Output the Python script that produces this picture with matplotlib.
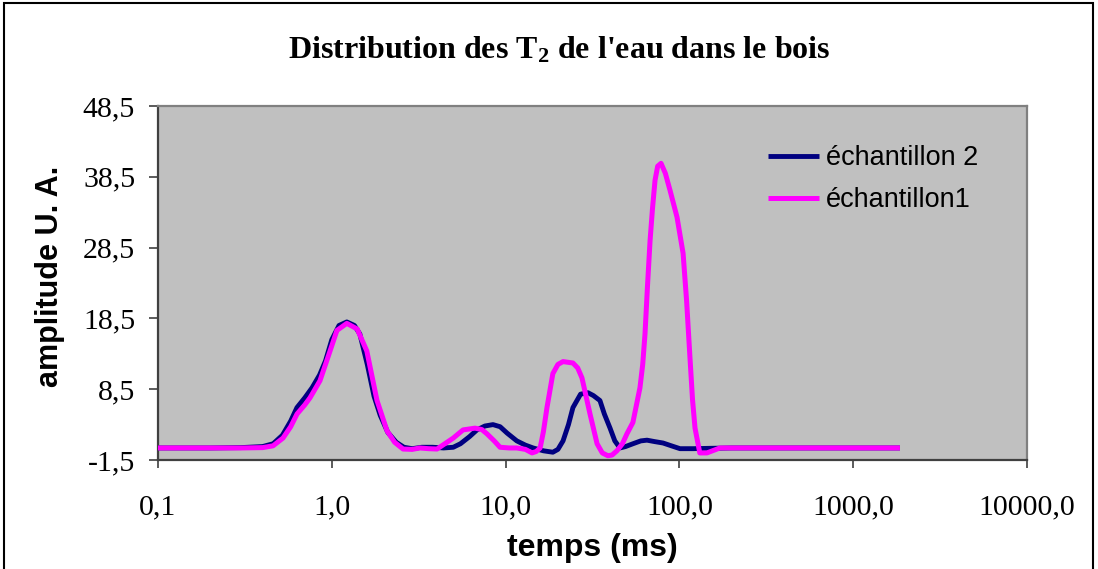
import matplotlib
matplotlib.use("Agg")
import matplotlib.pyplot as plt
from matplotlib.patches import Rectangle

# ---- data ----
t_ech2 = [0.1, 0.2, 0.3, 0.4, 0.46, 0.52, 0.58, 0.63, 0.70, 0.77, 0.85, 0.92, 1.0, 1.1,
          1.22, 1.35, 1.45, 1.6, 1.75, 1.9, 2.1, 2.35, 2.6, 2.9, 3.3, 3.8, 4.4, 5.0, 5.5,
          6.2, 6.84, 7.6, 8.46, 9.3, 10.2, 11.6, 13.0, 14.4, 16.5, 18.7, 20.0, 21.4, 23.0,
          24.4, 27.0, 29.8, 32.0, 34.9, 37.0, 39.9, 42.5, 45.5, 49.0, 54.1, 60.0, 65.1,
          72.0, 80.5, 90.0, 100.8, 120, 150, 200, 1858]
a_ech2 = [0.2, 0.2, 0.25, 0.4, 0.8, 2.0, 4.0, 5.9, 7.3, 8.7, 10.5, 12.5, 15.5, 17.5,
          18.0, 17.5, 16.3, 12.0, 7.5, 4.8, 2.4, 1.0, 0.3, 0.1, 0.3, 0.3, 0.2, 0.3, 0.8,
          1.8, 2.75, 3.3, 3.5, 3.2, 2.3, 1.2, 0.6, 0.2, -0.2, -0.4, 0.0, 1.2, 3.5,
          5.9, 7.8, 8.0, 7.6, 6.9, 5.0, 3.0, 1.2, 0.2, 0.4, 0.8, 1.2, 1.3,
          1.1, 0.9, 0.5, 0.1, 0.1, 0.15, 0.2, 0.2]

t_ech1 = [0.1, 0.3, 0.40, 0.459, 0.524, 0.58, 0.631, 0.70, 0.75, 0.855, 0.977, 1.07, 1.22,
          1.40, 1.59, 1.82, 2.08, 2.3, 2.57, 2.9, 3.21, 3.6, 4.03, 4.6, 5.0, 5.69, 6.67,
          7.3, 7.81, 8.6, 9.29, 10.5, 11.6, 13.0, 14.2, 15.0, 15.8, 16.5, 17.3, 18.7, 20.0,
          21.4, 24.4, 26.0, 27.5, 30.6, 33.6, 36.0, 38.8, 41.0, 43.7, 47.0, 49.9, 54.0,
          59.3, 61.5, 63.4, 65.5, 67.8, 70.0, 72.4, 75.0, 78.4, 83.0, 88.3, 96.9, 105,
          110, 115, 119, 123, 131, 144, 171, 223, 1858]
a_ech1 = [0.2, 0.2, 0.25, 0.5, 1.6, 3.2, 5.0, 6.3, 7.3, 9.7, 13.9, 16.8, 17.8,
          17.0, 13.9, 6.9, 2.6, 1.0, 0.05, 0.0, 0.2, 0.1, 0.05, 1.0, 1.6, 2.75, 3.0,
          2.8, 2.2, 1.2, 0.3, 0.2, 0.2, 0.0, -0.5, -0.3, 0.2, 2.5, 5.9, 10.7, 12.0,
          12.4, 12.2, 11.5, 10.1, 5.0, 0.8, -0.5, -0.9, -0.8, -0.2, 0.8, 2.2, 3.8,
          8.7, 12.0, 16.3, 23.0, 29.5, 34.0, 38.0, 40.0, 40.4, 39.0, 36.6, 32.8, 27.7,
          21.0, 13.0, 7.0, 3.0, -0.5, -0.5, 0.2, 0.2, 0.2]

x_ticks = [0.1, 1, 10, 100, 1000, 10000]
x_tick_labels = ["0,1", "1,0", "10,0", "100,0", "1000,0", "10000,0"]
y_ticks = [-1.5, 8.5, 18.5, 28.5, 38.5, 48.5]
y_tick_labels = ["-1,5", "8,5", "18,5", "28,5", "38,5", "48,5"]
series_names = ["échantillon 2", "échantillon1"]

# ---- style ----
plt.rcParams['mathtext.fontset'] = 'custom'
plt.rcParams['mathtext.rm'] = 'Liberation Serif:bold'
plt.rcParams['mathtext.it'] = 'Liberation Serif:bold'
plt.rcParams['mathtext.bf'] = 'Liberation Serif:bold'

W, H = 1098, 569
fig = plt.figure(figsize=(W / 100, H / 100), dpi=100)
fig.patch.set_facecolor('white')

L, R, T, B = 158, 1027, 106, 460
ax = fig.add_axes([L / W, 1 - B / H, (R - L) / W, (B - T) / H])
ax.set_facecolor('#C0C0C0')

ax.plot(t_ech2, a_ech2, color='#000080', lw=3.5, label=series_names[0],
        solid_joinstyle='round', solid_capstyle='butt', zorder=3)
ax.plot(t_ech1, a_ech1, color='#FF00FF', lw=3.6, label=series_names[1],
        solid_joinstyle='round', solid_capstyle='butt', zorder=4)

ax.set_xscale('log')
ax.set_xlim(0.1, 10000)
ax.set_ylim(-1.5, 48.5)
ax.set_xticks(x_ticks)
ax.set_xticklabels(x_tick_labels)
ax.xaxis.set_minor_locator(matplotlib.ticker.NullLocator())
ax.set_yticks(y_ticks)
ax.set_yticklabels(y_tick_labels)

for lab in ax.get_xticklabels() + ax.get_yticklabels():
    lab.set_fontfamily('Liberation Serif')
    lab.set_fontsize(21.5)
    lab.set_color('black')
ax.tick_params(axis='x', direction='out', length=6, width=1.2, color='#404040', pad=19)
ax.tick_params(axis='y', direction='out', length=6.5, width=1.2, color='#404040', pad=10)

for s in ['left', 'bottom']:
    ax.spines[s].set_color('#404040')
    ax.spines[s].set_linewidth(1.6)
for s in ['top', 'right']:
    ax.spines[s].set_color('#808080')
    ax.spines[s].set_linewidth(1.6)

leg = ax.legend(loc='upper left', bbox_to_anchor=((768 - L) / (R - L), 1 - (145 - T) / (B - T)),
                frameon=False, borderpad=0, borderaxespad=0, handlelength=1.9,
                handletextpad=0.25, labelspacing=0.6,
                prop={'family': 'Liberation Sans', 'size': 19.5})

fig.text(559 / W, 1 - 50 / H, "Distribution des $\\mathrm{T}_{2}$ de l'eau dans le bois",
         ha='center', va='center', fontfamily='Liberation Serif', fontweight='bold',
         fontsize=23)
fig.text(592 / W, 1 - 548 / H, "temps (ms)", ha='center', va='center',
         fontfamily='Liberation Sans', fontweight='bold', fontsize=23)
fig.text(50 / W, 1 - 276 / H, "amplitude U. A.", ha='center', va='center', rotation=90,
         fontfamily='Liberation Sans', fontweight='bold', fontsize=22)

fig.patches.append(Rectangle((4 / W, -0.05), (1093 - 4) / W, 1.05 - 3 / H,
                             transform=fig.transFigure, fill=False, edgecolor='black',
                             lw=1.5, clip_on=False))

fig.savefig('out.png', dpi=100, facecolor='white')
